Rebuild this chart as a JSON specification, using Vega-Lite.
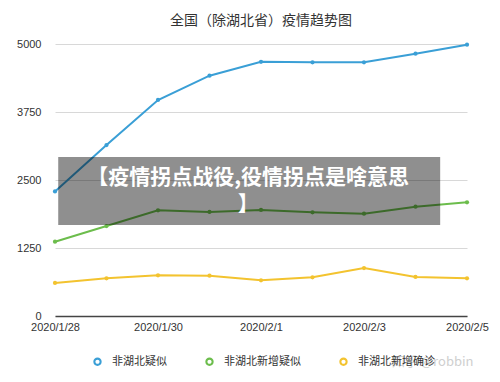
{
  "$schema": "https://vega.github.io/schema/vega-lite/v6.json",
  "autosize": {"type": "none"},
  "width": 412,
  "height": 272,
  "padding": {"left": 55, "top": 44, "right": 33, "bottom": 66},
  "background": "#ffffff",
  "title": {"text": "全国（除湖北省）疫情趋势图", "fontSize": 14, "font": "Noto Sans CJK SC", "fontWeight": "normal", "color": "#333333", "offset": 10, "anchor": "middle"},
  "config": {
    "view": {"stroke": null},
    "font": "Noto Sans CJK SC",
    "axisX": {"format": "%Y/%-m/%-d", "formatType": "utc"},
    "axisY": {"format": "d"}
  },
  "layer": [
    {
      "data": {"values": [
        {"date": "2020-01-28", "series": "非湖北疑似", "value": 2290},
        {"date": "2020-01-29", "series": "非湖北疑似", "value": 3143},
        {"date": "2020-01-30", "series": "非湖北疑似", "value": 3971},
        {"date": "2020-01-31", "series": "非湖北疑似", "value": 4418},
        {"date": "2020-02-01", "series": "非湖北疑似", "value": 4672},
        {"date": "2020-02-02", "series": "非湖北疑似", "value": 4663},
        {"date": "2020-02-03", "series": "非湖北疑似", "value": 4663},
        {"date": "2020-02-04", "series": "非湖北疑似", "value": 4822},
        {"date": "2020-02-05", "series": "非湖北疑似", "value": 4988},
        {"date": "2020-01-28", "series": "非湖北新增疑似", "value": 1366},
        {"date": "2020-01-29", "series": "非湖北新增疑似", "value": 1654},
        {"date": "2020-01-30", "series": "非湖北新增疑似", "value": 1943},
        {"date": "2020-01-31", "series": "非湖北新增疑似", "value": 1912},
        {"date": "2020-02-01", "series": "非湖北新增疑似", "value": 1949},
        {"date": "2020-02-02", "series": "非湖北新增疑似", "value": 1906},
        {"date": "2020-02-03", "series": "非湖北新增疑似", "value": 1881},
        {"date": "2020-02-04", "series": "非湖北新增疑似", "value": 2010},
        {"date": "2020-02-05", "series": "非湖北新增疑似", "value": 2090},
        {"date": "2020-01-28", "series": "非湖北新增确诊", "value": 607},
        {"date": "2020-01-29", "series": "非湖北新增确诊", "value": 692},
        {"date": "2020-01-30", "series": "非湖北新增确诊", "value": 748},
        {"date": "2020-01-31", "series": "非湖北新增确诊", "value": 741},
        {"date": "2020-02-01", "series": "非湖北新增确诊", "value": 656},
        {"date": "2020-02-02", "series": "非湖北新增确诊", "value": 711},
        {"date": "2020-02-03", "series": "非湖北新增确诊", "value": 882},
        {"date": "2020-02-04", "series": "非湖北新增确诊", "value": 717},
        {"date": "2020-02-05", "series": "非湖北新增确诊", "value": 692}
      ]},
      "mark": {"type": "line", "strokeWidth": 2, "point": {"filled": true, "size": 18}},
      "encoding": {
        "x": {
          "field": "date", "type": "temporal",
          "scale": {"type": "utc", "domain": [{"year": 2020, "month": 1, "date": 28, "utc": true}, {"year": 2020, "month": 2, "date": 5, "utc": true}]},
          "axis": {
            "title": null, "grid": false, "ticks": false, "domain": true,
            "domainColor": "#444444", "domainWidth": 1.5,
            "values": [
              {"year": 2020, "month": 1, "date": 28, "utc": true},
              {"year": 2020, "month": 1, "date": 30, "utc": true},
              {"year": 2020, "month": 2, "date": 1, "utc": true},
              {"year": 2020, "month": 2, "date": 3, "utc": true},
              {"year": 2020, "month": 2, "date": 5, "utc": true}
            ],
            "format": "%Y/%-m/%-d", "formatType": "utc",
            "labelFontSize": 11, "labelColor": "#333333", "labelPadding": 5,
            "labelFont": "Liberation Sans", "labelOverlap": false, "labelFlush": false
          }
        },
        "y": {
          "field": "value", "type": "quantitative",
          "scale": {"domain": [0, 5000], "nice": false},
          "axis": {
            "title": null, "values": [0, 1250, 2500, 3750, 5000], "format": "d",
            "domain": false, "ticks": false, "grid": true, "gridColor": "#d8d8d8",
            "labelFontSize": 11, "labelColor": "#333333", "labelPadding": 14,
            "labelFont": "Liberation Sans"
          }
        },
        "color": {
          "field": "series", "type": "nominal",
          "scale": {"domain": ["非湖北疑似", "非湖北新增疑似", "非湖北新增确诊"], "range": ["#3a9fd6", "#6cbd4c", "#f3c32f"]},
          "legend": {
            "title": null, "orient": "none", "direction": "horizontal",
            "legendX": 37, "legendY": 312,
            "symbolType": "M-1,0A1,1 0 1,0 1,0A1,1 0 1,0 -1,0Z M-0.5,0A0.5,0.5 0 1,1 0.5,0A0.5,0.5 0 1,1 -0.5,0Z",
            "symbolStrokeWidth": 0, "symbolSize": 70,
            "labelFontSize": 11, "labelColor": "#333333", "labelOffset": 9, "columnPadding": 37
          }
        }
      }
    },
    {
      "data": {"values": [{"k": 1}]},
      "mark": {"type": "rect", "color": "#000000", "opacity": 0.44},
      "encoding": {
        "x": {"datum": {"year": 2020, "month": 1, "date": 28, "hours": 1, "minutes": 30, "utc": true}, "type": "temporal"},
        "x2": {"datum": {"year": 2020, "month": 2, "date": 4, "hours": 11, "minutes": 30, "utc": true}},
        "y": {"datum": 2923, "type": "quantitative"},
        "y2": {"datum": 1673}
      }
    },
    {
      "data": {"values": [{"k": 1}]},
      "mark": {"type": "text", "text": ["【疫情拐点战役,役情拐点是啥意思", "】"], "color": "#ffffff", "fontSize": 21, "fontWeight": "bold", "font": "Noto Sans CJK SC", "align": "center", "baseline": "middle", "lineHeight": 27},
      "encoding": {
        "x": {"datum": {"year": 2020, "month": 1, "date": 31, "hours": 18, "utc": true}, "type": "temporal"},
        "y": {"datum": 2544, "type": "quantitative"}
      }
    },
    {
      "data": {"values": [{"k": 1}]},
      "mark": {"type": "text", "text": "知乎 @robbin", "color": "#cfcfcf", "fontSize": 13, "align": "left", "baseline": "middle", "clip": false},
      "encoding": {
        "x": {"datum": {"year": 2020, "month": 2, "date": 3, "hours": 13, "utc": true}, "type": "temporal"},
        "y": {"datum": -846, "type": "quantitative"}
      }
    }
  ]
}
